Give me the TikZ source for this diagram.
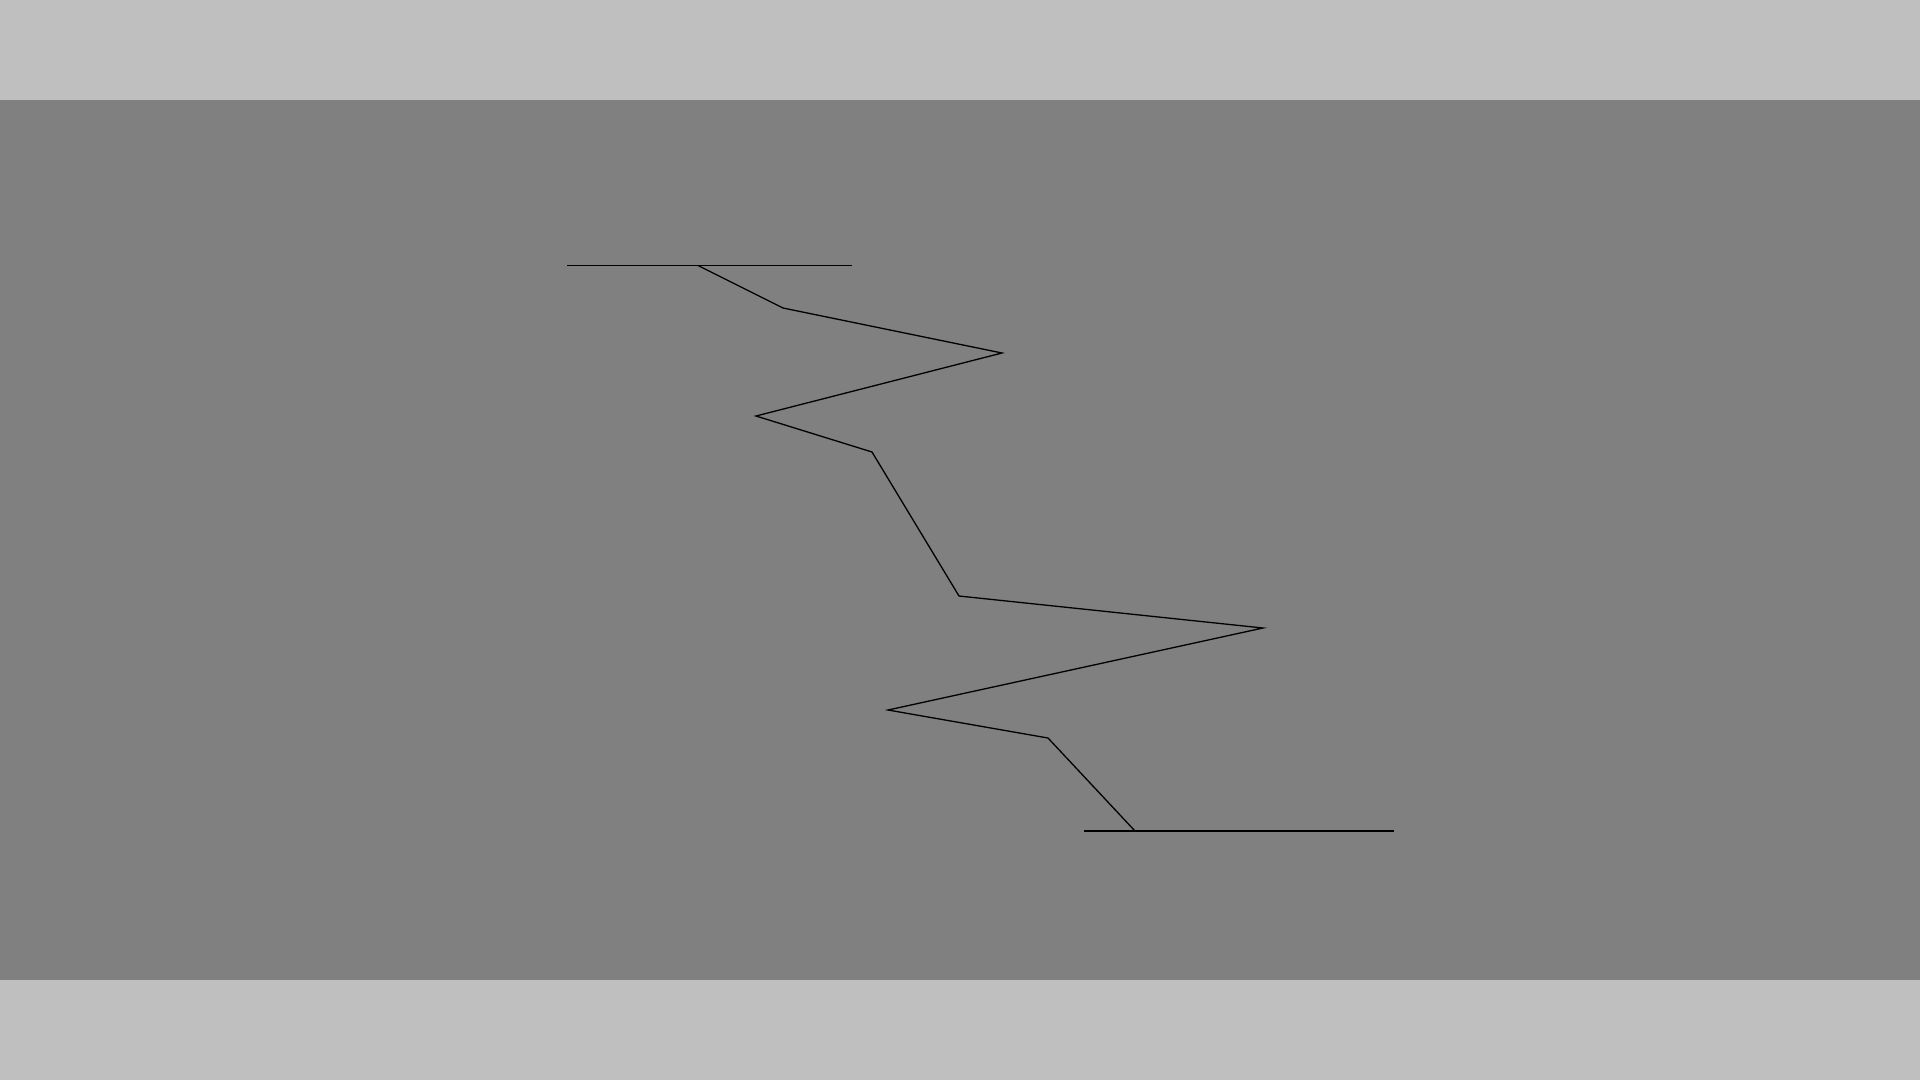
\documentclass[tikz,border=0pt]{standalone}
\usetikzlibrary{positioning}
\definecolor{bandlight}{RGB}{191,191,191}
\definecolor{banddark}{RGB}{128,128,128}

\begin{document}
\begin{tikzpicture}[x=1pt,y=-1pt]
\tikzset{
  outerband/.style={fill=bandlight},
  innerband/.style={fill=banddark},
  crackline/.style={black,line width=1.3pt,line join=miter},
  ledge/.style={black,line width=1.3pt}
}
\useasboundingbox (0,0) rectangle (1920,1080);
\fill[outerband] (0,0) rectangle (1920,1080);
\fill[innerband] (0,100) rectangle (1920,980);
\coordinate (c_topL) at (567,265.5);
\coordinate (c_topR) at (852,265.5);
\coordinate (c_z0) at (698,265.5);
\coordinate (c_z1) at (783,308);
\coordinate (c_z2) at (1002,353);
\coordinate (c_z3) at (756,416);
\coordinate (c_z4) at (872,452);
\coordinate (c_z5) at (959,596);
\coordinate (c_z6) at (1263,628);
\coordinate (c_z7) at (888,710);
\coordinate (c_z8) at (1048,738);
\coordinate (c_z9) at (1135,831);
\coordinate (c_botL) at (1084,831);
\coordinate (c_botR) at (1394,831);
\draw[ledge] (c_topL) -- (c_topR);
\draw[ledge] (c_botL) -- (c_botR);
\draw[crackline] (c_z0) -- (c_z1) -- (c_z2) -- (c_z3) -- (c_z4) -- (c_z5) -- (c_z6) -- (c_z7) -- (c_z8) -- (c_z9);
\end{tikzpicture}
\end{document}
